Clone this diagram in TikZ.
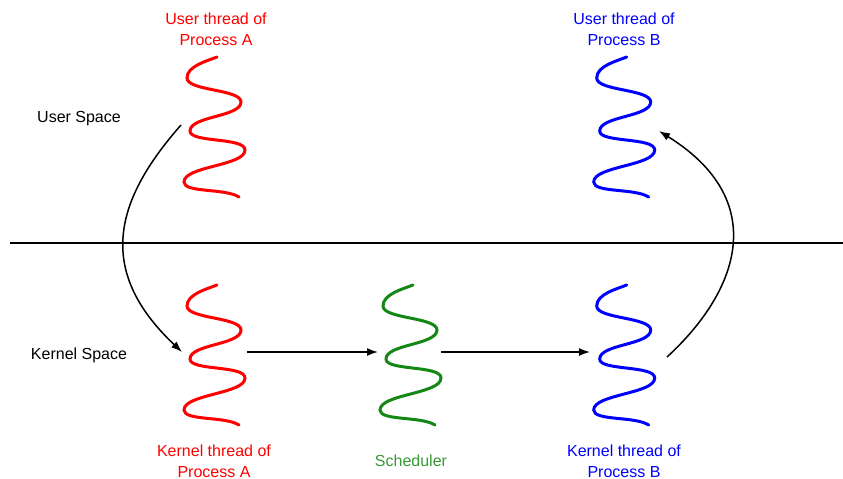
\documentclass[tikz,border=0pt]{standalone}
\usepackage{fontspec}
\setmainfont{Liberation Sans}
\usetikzlibrary{arrows.meta}
\definecolor{thrRed}{RGB}{255,0,0}
\definecolor{thrBlue}{RGB}{0,0,255}
\definecolor{thrGreen}{RGB}{20,135,20}
\tikzset{
  threadline/.style={line width=3pt, line cap=round},
  lbl/.style={font=\fontsize{16}{21}\selectfont, align=center, inner sep=0pt},
  flow/.style={line width=1.5pt, -{Latex[length=11pt,width=8pt]}},
  pics/wthread/.style={code={
    \draw[threadline, #1] (30,0) .. controls (20,4) and (0,9) .. (0,21)
      .. controls (0,34) and (54,32) .. (54,45)
      .. controls (54,60) and (3,59) .. (3,74)
      .. controls (3,86) and (58,80) .. (58,93)
      .. controls (58,109) and (-3,109) .. (-3,125)
      .. controls (-3,136) and (38,131) .. (52,140);
  }}
}
\begin{document}
\begin{tikzpicture}[x=1pt,y=-1pt]
\useasboundingbox (0,0) rectangle (843,479);
% separator
\coordinate (L) at (10,243);
\coordinate (R) at (843,243);
\draw[line width=2.8pt] (L) -- (R);
% threads
\pic at (187,57) {wthread=thrRed};
\pic at (596.7,57) {wthread=thrBlue};
\pic at (187,285) {wthread=thrRed};
\pic at (383,285) {wthread=thrGreen};
\pic at (596.7,285) {wthread=thrBlue};
% labels
\node[lbl, text=thrRed] (ua) at (216,29) {User thread of\\Process A};
\node[lbl, text=thrBlue] (ub) at (624,29) {User thread of\\Process B};
\node[lbl] (us) at (79,119) {User Space};
\node[lbl] (ks) at (79,355) {Kernel Space};
\node[lbl, text=thrRed] (ka) at (214,461) {Kernel thread of\\Process A};
\node[lbl, text=thrGreen!85!white] (sc) at (411,461) {Scheduler};
\node[lbl, text=thrBlue] (kb) at (624,461) {Kernel thread of\\Process B};
% connector anchors
\coordinate (uaout) at (181,125);
\coordinate (kain) at (182,352);
\coordinate (kaout) at (247,352);
\coordinate (scin) at (378,352);
\coordinate (scout) at (441,352);
\coordinate (kbin) at (590,352);
\coordinate (kbout) at (667,357);
\coordinate (ubin) at (659,131);
% arrows
\draw[flow] (uaout) .. controls (115,200) and (95,270) .. (kain);
\draw[flow] (kaout) -- (scin);
\draw[flow] (scout) -- (kbin);
\draw[flow] (kbout) .. controls (740,290) and (770,200) .. (ubin);
\end{tikzpicture}
\end{document}
